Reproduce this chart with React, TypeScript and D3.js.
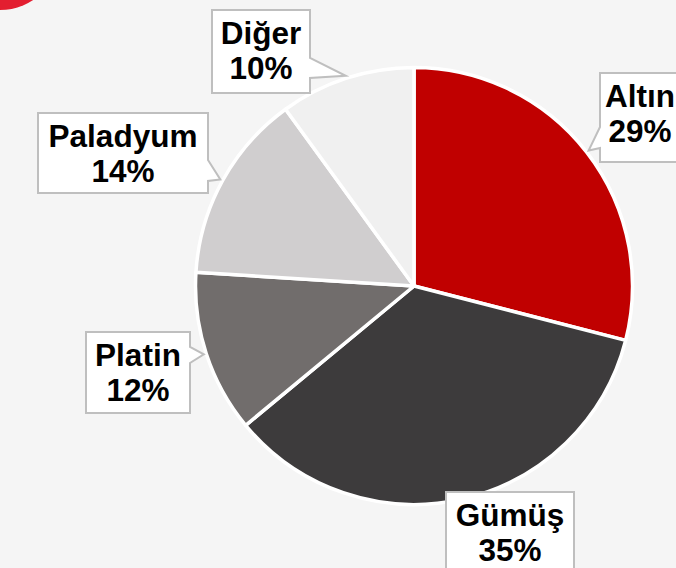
import React from 'react';
import * as d3 from 'd3';

const categories = ['Altın', 'Gümüş', 'Platin', 'Paladyum', 'Diğer'];
const shares = [29, 35, 12, 14, 10];
const colors = ['#C00000', '#3D3B3C', '#716D6C', '#D0CECF', '#F0F0F0'];

const W = 676;
const H = 568;
const cx = 414;
const cy = 286;
const R = 220;

// callout boxes: x0,y0,x1,y1, side of pointer, pointer base (y range)
const boxes = [
  { x0: 600, y0: 73, x1: 684, y1: 162, side: 'left', b0: 127, b1: 148, tx: 640 },
  { x0: 446, y0: 492, x1: 574, y1: 580, side: 'none', b0: 0, b1: 0, tx: 510 },
  { x0: 86, y0: 332, x1: 190, y1: 413, side: 'right', b0: 347, b1: 363, tx: 138 },
  { x0: 38, y0: 113, x1: 208, y1: 193, side: 'right', b0: 160, b1: 181, tx: 123 },
  { x0: 212, y0: 10, x1: 310, y1: 93, side: 'right', b0: 58, b1: 78, tx: 261 },
];

const calloutPath = (b: any, tip: [number, number]) => {
  const p = d3.path();
  p.moveTo(b.x0, b.y0);
  p.lineTo(b.x1, b.y0);
  if (b.side === 'right') {
    p.lineTo(b.x1, b.b0);
    p.lineTo(tip[0], tip[1]);
    p.lineTo(b.x1, b.b1);
  }
  p.lineTo(b.x1, b.y1);
  p.lineTo(b.x0, b.y1);
  if (b.side === 'left') {
    p.lineTo(b.x0, b.b1);
    p.lineTo(tip[0], tip[1]);
    p.lineTo(b.x0, b.b0);
  }
  p.closePath();
  return p.toString();
};

const App = () => {
  const pie = d3.pie<number>().sort(null).value((d) => d);
  const arcs = pie(shares);
  const arc = d3.arc<d3.PieArcDatum<number>>().innerRadius(0).outerRadius(R - 1.5);
  const edge = d3.arc<d3.PieArcDatum<number>>().innerRadius(R + 1).outerRadius(R + 1);

  return (
    <svg width={W} height={H} style={{ position: 'absolute', left: 0, top: 0, display: 'block' }}>
      <rect width={W} height={H} fill="#F5F5F5" />
      <circle cx={0} cy={-50} r={60} fill="#E31E30" />
      <g transform={`translate(${cx},${cy})`}>
        {arcs.map((a, i) => (
          <path key={i} d={arc(a) as string} fill={colors[i]} stroke="#FFFFFF" strokeWidth={3.5} strokeLinejoin="round" />
        ))}
      </g>
      {arcs.map((a, i) => {
        const c = edge.centroid(a);
        const tip: [number, number] = [c[0] + cx, c[1] + cy];
        const b = boxes[i];
        return (
          <g key={i}>
            <path d={calloutPath(b, tip)} fill="#FFFFFF" stroke="#BFBFBF" strokeWidth={2} />
            <text
              x={b.tx}
              y={b.y0 + 34}
              textAnchor="middle"
              fontFamily="'Liberation Sans', Arial, sans-serif"
              fontWeight="bold"
              fontSize={31.5}
              fill="#000"
            >
              {categories[i]}
            </text>
            <text
              x={b.tx}
              y={b.y0 + 69}
              textAnchor="middle"
              fontFamily="'Liberation Sans', Arial, sans-serif"
              fontWeight="bold"
              fontSize={31.5}
              fill="#000"
            >
              {shares[i]}%
            </text>
          </g>
        );
      })}
    </svg>
  );
};

export default App;
